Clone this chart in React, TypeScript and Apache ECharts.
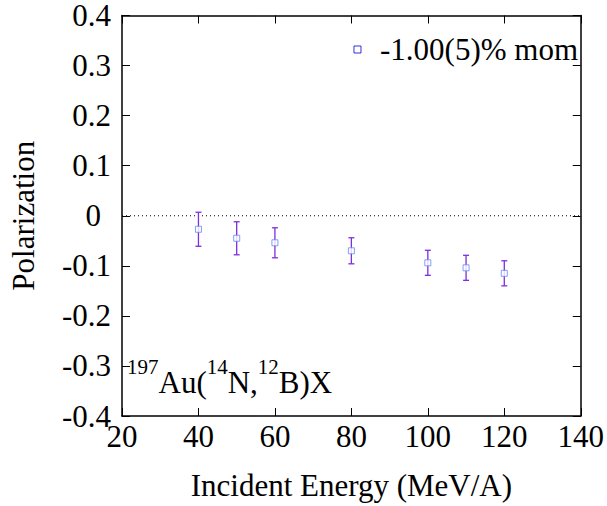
import React, { useEffect, useRef } from "react";
import * as echarts from "echarts";

const energies = [40, 50, 60, 80, 100, 110, 120];
const polarization = [-0.027, -0.045, -0.054, -0.070, -0.094, -0.104, -0.115];
const errors = [0.034, 0.033, 0.030, 0.026, 0.025, 0.025, 0.025];
const seriesName = "-1.00(5)% mom";
const xLabel = "Incident Energy (MeV/A)";
const yLabel = "Polarization";

const FONT = "Liberation Serif";
const FS = 31;

export default function App() {
  const ref = useRef<HTMLDivElement>(null);
  useEffect(() => {
    document.body.style.margin = "0";
    if (!ref.current) return;
    const chart = echarts.init(ref.current, null, { renderer: "svg" });
    const pts = energies.map((e, i) => [e, polarization[i]]);
    const errData = energies.map((e, i) => [e, polarization[i] - errors[i], polarization[i] + errors[i]]);
    const tickStyle = { inside: true, length: 8, lineStyle: { color: "#000", width: 1 } };
    chart.setOption({
      animation: false,
      backgroundColor: "#fff",
      textStyle: { fontFamily: FONT },
      grid: { left: 111, right: 18, top: 15, bottom: 89, show: false },
      legend: {
        right: 24,
        top: 29,
        itemWidth: 7,
        itemHeight: 7,
        data: [{ name: seriesName, icon: "rect", itemStyle: { color: "#fff", borderColor: "#0000cc", borderWidth: 1 } }],
        textStyle: { fontFamily: FONT, fontSize: FS, color: "#000", padding: [0, 0, 0, 14] },
      },
      xAxis: [
        {
          type: "value",
          min: 20,
          max: 140,
          interval: 20,
          name: xLabel,
          nameLocation: "middle",
          nameGap: 54,
          nameTextStyle: { fontFamily: FONT, fontSize: FS, color: "#000" },
          axisLine: { show: true, onZero: false, lineStyle: { color: "#000", width: 1.5 } },
          axisTick: tickStyle,
          axisLabel: { fontFamily: FONT, fontSize: FS, color: "#000", margin: 5 },
          splitLine: { show: false },
        },
        {
          type: "value",
          position: "top",
          min: 20,
          max: 140,
          interval: 20,
          axisLine: { show: true, onZero: false, lineStyle: { color: "#000", width: 1.5 } },
          axisTick: tickStyle,
          axisLabel: { show: false },
          splitLine: { show: false },
        },
      ],
      yAxis: [
        {
          type: "value",
          min: -0.4,
          max: 0.4,
          interval: 0.1,
          name: yLabel,
          nameLocation: "middle",
          nameGap: 83,
          nameTextStyle: { fontFamily: FONT, fontSize: FS, color: "#000" },
          axisLine: { show: true, onZero: false, lineStyle: { color: "#000", width: 1.5 } },
          axisTick: tickStyle,
          axisLabel: {
            fontFamily: FONT,
            fontSize: FS,
            color: "#000",
            margin: 11,
            formatter: (v: number) => (Math.abs(v) < 1e-9 ? "{z|0}" : String(Math.round(v * 10) / 10)),
            rich: { z: { fontFamily: FONT, fontSize: FS, color: "#000", padding: [0, 10, 0, 0] } },
          },
          splitLine: { show: false },
        },
        {
          type: "value",
          position: "right",
          min: -0.4,
          max: 0.4,
          interval: 0.1,
          axisLine: { show: true, onZero: false, lineStyle: { color: "#000", width: 1.5 } },
          axisTick: tickStyle,
          axisLabel: { show: false },
          splitLine: { show: false },
        },
      ],
      series: [
        {
          type: "line",
          data: [[20, 0], [140, 0]],
          symbol: "none",
          silent: true,
          lineStyle: { color: "#000", width: 1, type: [1, 3] },
          z: 1,
        },
        {
          type: "custom",
          data: errData,
          z: 2,
          renderItem: (params: any, api: any) => {
            const x = api.value(0);
            const lo = api.coord([x, api.value(1)]);
            const hi = api.coord([x, api.value(2)]);
            const w = 3;
            const c = "#7d2ee0";
            return {
              type: "group",
              children: [
                { type: "line", shape: { x1: lo[0], y1: lo[1], x2: hi[0], y2: hi[1] }, style: { stroke: c, lineWidth: 1.3 } },
                { type: "line", shape: { x1: lo[0] - w, y1: lo[1], x2: lo[0] + w, y2: lo[1] }, style: { stroke: c, lineWidth: 1.3 } },
                { type: "line", shape: { x1: hi[0] - w, y1: hi[1], x2: hi[0] + w, y2: hi[1] }, style: { stroke: c, lineWidth: 1.3 } },
              ],
            };
          },
        },
        {
          type: "scatter",
          name: seriesName,
          data: pts,
          symbol: "rect",
          symbolSize: 6,
          z: 3,
          itemStyle: { color: "#fff", borderColor: "#6688f5", borderWidth: 1 },
        },
      ],
      graphic: [
        {
          type: "text",
          left: 127,
          top: 356,
          style: {
            text: "{s|197}{n|Au(}{s|14}{n|N,}{s|12}{n|B)X}",
            rich: {
              n: { fontFamily: FONT, fontSize: FS, fill: "#000", verticalAlign: "bottom", lineHeight: 42 },
              s: { fontFamily: FONT, fontSize: 21, fill: "#000", verticalAlign: "top", lineHeight: 42 },
            },
          },
        },
      ],
    });
    return () => chart.dispose();
  }, []);
  return (
    <>
      <style>{`.chart-root svg text { font-family: "Liberation Serif", serif !important; }`}</style>
      <div className="chart-root" ref={ref} style={{ width: 607, height: 506 }} />
    </>
  );
}
